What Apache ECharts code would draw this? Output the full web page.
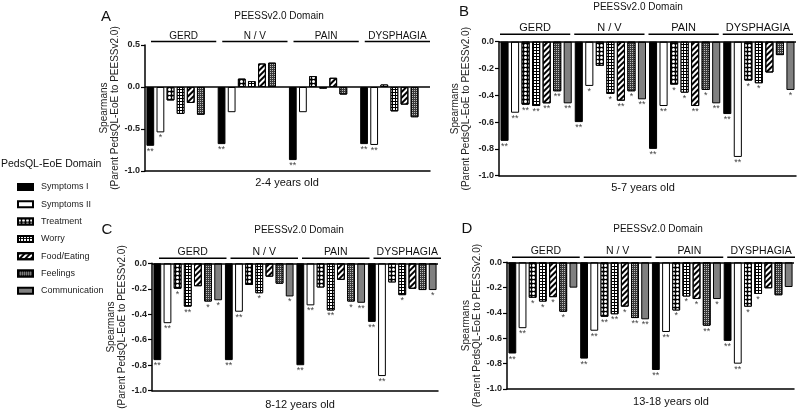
<!DOCTYPE html>
<html><head><meta charset="utf-8">
<script src="https://cdn.jsdelivr.net/npm/echarts@6/dist/echarts.min.js"></script>
<style>html,body{margin:0;padding:0;background:#fff}#c{width:800px;height:413px}</style>
</head><body><div id="c"></div>
<script>
// ---------- DATA ----------
const categories = ['GERD', 'N / V', 'PAIN', 'DYSPHAGIA'];
const seriesNames = ['Symptoms I', 'Symptoms II', 'Treatment', 'Worry', 'Food/Eating', 'Feelings', 'Communication'];
const ageGroups = ['2-4 years old', '5-7 years old', '8-12 years old', '13-18 years old'];
const panelLetters = ['A', 'B', 'C', 'D'];
const yMin = [-1.0, -1.0, -1.0, -1.0];
const yMax = [0.5, 0.0, 0.0, 0.0];
const yInterval = [0.5, 0.2, 0.2, 0.2];

// rows = PedsQL-EoE domain (series), columns = PEESSv2.0 domain (categories)
const valuesA = [
  [-0.70, -0.68, -0.87, -0.68],
  [-0.54, -0.30, -0.30, -0.69],
  [-0.16,  0.10,  0.13,  0.03],
  [-0.32,  0.07, -0.02, -0.29],
  [-0.19,  0.28,  0.11, -0.21],
  [-0.33,  0.29, -0.09, -0.36],
  [null, null, null, null]
];
const valuesB = [
  [-0.74, -0.60, -0.80, -0.54],
  [-0.53, -0.33, -0.48, -0.86],
  [-0.47, -0.18, -0.32, -0.29],
  [-0.48, -0.39, -0.38, -0.31],
  [-0.46, -0.44, -0.48, -0.23],
  [-0.37, -0.37, -0.36, -0.10],
  [-0.46, -0.43, -0.46, -0.36]
];
const valuesC = [
  [-0.76, -0.76, -0.80, -0.46],
  [-0.47, -0.38, -0.33, -0.885],
  [-0.20, -0.17, -0.19, -0.15],
  [-0.34, -0.235, -0.37, -0.25],
  [-0.18, -0.105, -0.13, -0.20],
  [-0.30, -0.16, -0.30, -0.21],
  [-0.29, -0.26, -0.31, -0.21]
];
const valuesD = [
  [-0.72, -0.76, -0.85, -0.62],
  [-0.52, -0.54, -0.55, -0.80],
  [-0.28, -0.43, -0.38, -0.35],
  [-0.31, -0.41, -0.27, -0.25],
  [-0.275, -0.35, -0.29, -0.205],
  [-0.39, -0.44, -0.50, -0.26],
  [-0.20, -0.45, -0.29, -0.195]
];
// significance markers
const sigA = [
  ['**', '**', '**', '**'],
  ['*', '', '', '**'],
  ['', '', '', ''],
  ['', '', '', ''],
  ['', '', '', ''],
  ['', '', '', ''],
  ['', '', '', '']
];
const sigB = [
  ['**', '**', '**', '**'],
  ['**', '*', '**', '**'],
  ['**', '', '*', '*'],
  ['**', '*', '*', '*'],
  ['**', '**', '**', ''],
  ['**', '*', '*', ''],
  ['**', '**', '**', '*']
];
const sigC = [
  ['**', '**', '**', '**'],
  ['**', '**', '**', '**'],
  ['*', '', '', ''],
  ['**', '*', '**', '*'],
  ['', '', '', ''],
  ['*', '', '*', ''],
  ['*', '*', '**', '*']
];
const sigD = [
  ['**', '**', '**', '**'],
  ['**', '**', '**', '**'],
  ['*', '**', '*', '*'],
  ['*', '**', '*', '*'],
  ['*', '*', '*', ''],
  ['*', '**', '**', ''],
  ['', '**', '*', '']
];

// ---------- LAYOUT / STYLE ----------
const values = [valuesA, valuesB, valuesC, valuesD];
const sigs = [sigA, sigB, sigC, sigD];
const FONT = 'Arial, "Liberation Sans", sans-serif';
const grids = [
  {left: 145, top: 45, width: 285, height: 126},
  {left: 499, top: 41.7, width: 297, height: 134},
  {left: 152, top: 263.3, width: 286, height: 127.4},
  {left: 507, top: 262.3, width: 287, height: 126.7}
];
const nameGaps = [20, 27, 20, 20];
const catLineOffset = [3.5, 7.4, 5, 5];
const catLineInset = [[6, 0], [1, -3], [7, 3], [5, 1]];
const catFont = [10, 11, 10.5, 10.5];

const seriesStyles = [
  {color: '#000'},
  {color: '#fff'},
  {color: '#000', decal: {symbol: 'circle', color: '#fff', symbolSize: 1, dashArrayX: [3, 1], dashArrayY: [3, 1]}},
  {color: '#000', decal: {symbol: 'rect', color: '#fff', symbolSize: 1, dashArrayX: [2, 1], dashArrayY: [2, 1]}},
  {color: '#fff', decal: {symbol: 'rect', color: '#000', dashArrayX: [1, 0], dashArrayY: [2, 2], rotation: -Math.PI / 4}},
  {color: '#3a3a3a', decal: {symbol: 'rect', color: '#bdbdbd', symbolSize: 1, dashArrayX: [1, 1], dashArrayY: [1, 1]}},
  {color: '#808080'}
];

const series = [];
for (let p = 0; p < 4; p++) {
  for (let s = 0; s < seriesNames.length; s++) {
    const ser = {
      type: 'bar', name: seriesNames[s], xAxisIndex: p, yAxisIndex: p,
      data: values[p][s],
      barGap: '30%', barCategoryGap: '4%',
      itemStyle: Object.assign({borderColor: '#000', borderWidth: 1}, seriesStyles[s]),
      label: {
        show: true, position: 'bottom', distance: 1,
        formatter: (prm) => sigs[p][s][prm.dataIndex] || '',
        fontSize: 9, color: '#444', fontFamily: FONT
      },
      emphasis: {disabled: true}
    };
    if (s === 0) {
      ser.markLine = {
        silent: true, symbol: 'none', label: {show: false},
        lineStyle: {color: '#000', type: 'solid', width: 1.5},
        data: [{yAxis: 0}]
      };
    }
    series.push(ser);
  }
  // category labels with lines above each group
  series.push({
    type: 'custom', xAxisIndex: p, yAxisIndex: p, silent: true, clip: false,
    data: categories.map((c, i) => [i, yMax[p]]),
    encode: {x: 0, y: 1},
    renderItem: (params, api) => {
      const i = api.value(0);
      const pt = api.coord([i, api.value(1)]);
      const bw = api.size([1, 0])[0];
      const x0 = pt[0] - bw / 2 + catLineInset[p][0];
      const x1 = pt[0] + bw / 2 + catLineInset[p][1];
      const ly = pt[1] - catLineOffset[p];
      return {
        type: 'group', children: [
          {type: 'line', shape: {x1: x0, y1: ly, x2: x1, y2: ly}, style: {stroke: '#000', lineWidth: 1.5}},
          {type: 'text', x: (x0 + x1) / 2, y: ly - 0.5,
           style: {text: categories[i], align: 'center', verticalAlign: 'bottom', fill: '#111',
                   font: catFont[p] + 'px ' + FONT}}
        ]
      };
    }
  });
}

function txt(text, x, y, size, align) {
  return {type: 'text', x: x, y: y, silent: true,
    style: {text: text, fill: '#111', font: size + 'px ' + FONT,
      align: align || 'center', textAlign: align || 'center',
      verticalAlign: 'middle', textVerticalAlign: 'middle'}};
}
const graphic = [
  txt(panelLetters[0], 106, 17, 15), txt(panelLetters[1], 464, 12, 15),
  txt(panelLetters[2], 107, 230, 15), txt(panelLetters[3], 467, 229, 15),
  txt('PEESSv2.0 Domain', 279, 16, 10), txt('PEESSv2.0 Domain', 638, 7.5, 10),
  txt('PEESSv2.0 Domain', 299, 230, 10), txt('PEESSv2.0 Domain', 658, 229, 10),
  txt(ageGroups[0], 287, 183, 11), txt(ageGroups[1], 643, 188, 11),
  txt(ageGroups[2], 300, 405, 11), txt(ageGroups[3], 671, 402, 11),
  txt('PedsQL-EoE Domain', 1, 164, 10.5, 'left')
];

const option = {
  animation: false,
  textStyle: {fontFamily: FONT},
  legend: {
    orient: 'vertical', left: 12, top: 176.5, itemWidth: 15, itemHeight: 6, itemGap: 6.3,
    data: seriesNames, icon: 'rect', selectedMode: false,
    textStyle: {fontSize: 9, color: '#222', lineHeight: 11, padding: [0, 0, 0, 3]}
  },
  grid: grids,
  xAxis: grids.map((g, i) => ({
    gridIndex: i, type: 'category', data: categories, position: 'bottom',
    axisLine: {onZero: false, lineStyle: {color: '#000', width: 1.5}},
    axisTick: {show: false}, axisLabel: {show: false}
  })),
  yAxis: grids.map((g, i) => ({
    gridIndex: i, type: 'value', min: yMin[i], max: yMax[i], interval: yInterval[i],
    axisLine: {show: true, lineStyle: {color: '#000', width: 1.5}},
    axisTick: {show: true, length: 4, lineStyle: {color: '#000', width: 1.2}},
    axisLabel: {formatter: v => (Math.abs(v) < 1e-9 ? '0.0' : v.toFixed(1)), fontSize: 9, fontWeight: 'bold', color: '#222', margin: 5},
    splitLine: {show: false},
    name: 'Spearmans\n(Parent PedsQL-EoE to PEESSv2.0)', nameLocation: 'middle', nameGap: nameGaps[i],
    nameTextStyle: {fontSize: 10, lineHeight: 11, color: '#222'}
  })),
  series: series,
  graphic: graphic
};
const chart = echarts.init(document.getElementById('c'), null, {renderer: 'canvas'});
chart.setOption(option);
</script></body></html>
